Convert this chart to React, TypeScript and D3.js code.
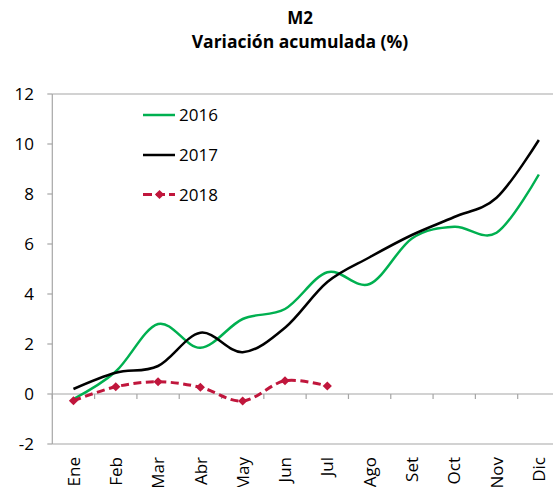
import React from "react";
import * as d3 from "d3";

const months = ["Ene", "Feb", "Mar", "Abr", "May", "Jun", "Jul", "Ago", "Set", "Oct", "Nov", "Dic"];
const values2016 = [-0.2, 0.9, 2.8, 1.85, 3.0, 3.4, 4.87, 4.4, 6.22, 6.69, 6.45, 8.78];
const values2017 = [0.2, 0.85, 1.12, 2.45, 1.67, 2.65, 4.48, 5.47, 6.36, 7.08, 7.85, 10.16];
const values2018 = [-0.27, 0.29, 0.49, 0.27, -0.28, 0.53, 0.32];
const yTicks = [-2, 0, 2, 4, 6, 8, 10, 12];
const seriesNames = ["2016", "2017", "2018"];
const titleLines = ["M2", "Variación acumulada (%)"];

const W = 553;
const H = 487;
const FONT = "'Open Sans', 'Noto Sans', sans-serif";
const GREEN = "#00B050";
const BLACK = "#000000";
const RED = "#C0163C";
const AXIS = "#A6A6A6";
const DIAMOND = "M0,-4.6L4.6,0L0,4.6L-4.6,0Z";

export default function App() {
  const x = d3.scaleBand<string>().domain(months).range([52.3, 560]).paddingInner(0).paddingOuter(0);
  const y = d3.scaleLinear().domain([-2, 12]).range([444, 94]);
  const cx = (m: string) => (x(m) as number) + x.bandwidth() / 2;

  const line = d3
    .line<number>()
    .x((_, i) => cx(months[i]))
    .y((d) => y(d))
    .curve(d3.curveCardinal.tension(0));

  const [x0, x1] = x.range();
  const legendY = [115, 155, 194.5];

  return (
    <svg
      width={W}
      height={H}
      style={{ position: "absolute", left: 0, top: 0, background: "#fff" }}
      fontFamily={FONT}
    >
      {/* title */}
      <text x={300} y={23.5} textAnchor="middle" fontSize={17} fontWeight="bold" fill="#000">
        {titleLines[0]}
      </text>
      <text x={300} y={47.5} textAnchor="middle" fontSize={17.5} fontWeight="bold" fill="#000">
        {titleLines[1]}
      </text>

      {/* plot frame */}
      <line x1={x0} x2={x1} y1={y(12)} y2={y(12)} stroke={AXIS} strokeWidth={1.2} />
      <line x1={x0} x2={x1} y1={y(-2)} y2={y(-2)} stroke={AXIS} strokeWidth={1.2} />
      <line x1={x1} x2={x1} y1={y(12)} y2={y(-2)} stroke={AXIS} strokeWidth={1.2} />

      {/* y axis */}
      <line x1={x0} x2={x0} y1={y(12)} y2={y(-2)} stroke={AXIS} strokeWidth={1.2} />
      {yTicks.map((t) => (
        <g key={t}>
          <line x1={x0 - 5} x2={x0} y1={y(t)} y2={y(t)} stroke={AXIS} strokeWidth={1.2} />
          <text x={34} y={y(t)} dy="0.36em" textAnchor="end" fontSize={17} fill="#000">
            {t}
          </text>
        </g>
      ))}

      {/* category axis at zero */}
      <line x1={x0} x2={x1} y1={y(0)} y2={y(0)} stroke={AXIS} strokeWidth={1.2} />
      {months.map((m) => (
        <line
          key={"t" + m}
          x1={x(m) as number}
          x2={x(m) as number}
          y1={y(0)}
          y2={y(0) + 5}
          stroke={AXIS}
          strokeWidth={1.2}
        />
      ))}
      {months.map((m) => (
        <text
          key={"l" + m}
          transform={`translate(${cx(m)},457) rotate(-90)`}
          dy="0.36em"
          textAnchor="end"
          fontSize={17}
          fill="#000"
        >
          {m}
        </text>
      ))}

      {/* series */}
      <path d={line(values2016) || ""} fill="none" stroke={GREEN} strokeWidth={2.5} />
      <path d={line(values2017) || ""} fill="none" stroke={BLACK} strokeWidth={2.5} />
      <path
        d={line(values2018) || ""}
        fill="none"
        stroke={RED}
        strokeWidth={3}
        strokeDasharray="8 4.5"
      />
      {values2018.map((v, i) => (
        <path key={"d" + i} d={DIAMOND} transform={`translate(${cx(months[i])},${y(v)})`} fill={RED} />
      ))}

      {/* legend */}
      <line x1={143} x2={175} y1={legendY[0]} y2={legendY[0]} stroke={GREEN} strokeWidth={2.5} />
      <line x1={143} x2={175} y1={legendY[1]} y2={legendY[1]} stroke={BLACK} strokeWidth={2.5} />
      <line
        x1={143}
        x2={175}
        y1={legendY[2]}
        y2={legendY[2]}
        stroke={RED}
        strokeWidth={3}
        strokeDasharray="9 4"
      />
      <path d={DIAMOND} transform={`translate(159.5,${legendY[2]})`} fill={RED} />
      {seriesNames.map((s, i) => (
        <text key={s} x={179} y={legendY[i]} dy="0.36em" fontSize={17} fill="#000">
          {s}
        </text>
      ))}
    </svg>
  );
}
